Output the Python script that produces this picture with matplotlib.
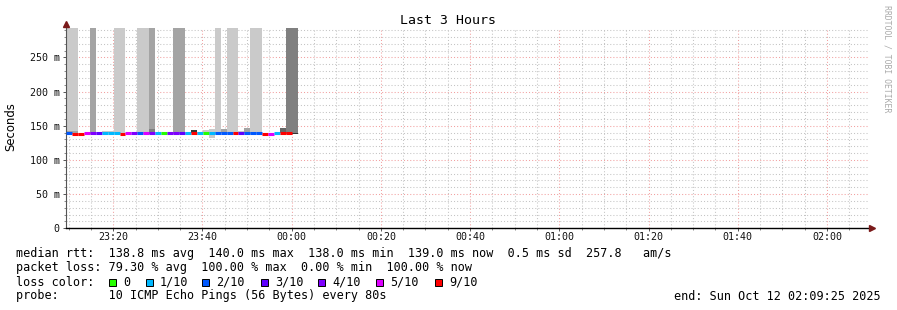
import datetime as dt

import matplotlib
matplotlib.use("Agg")
import matplotlib.dates as mdates
import matplotlib.pyplot as plt
import numpy as np
from matplotlib.patches import Rectangle

# =============================================================================
# Data (one value per 80 s step)
# =============================================================================

t_start = dt.datetime(2025, 10, 11, 23, 9, 25)
t_end   = dt.datetime(2025, 10, 12, 2, 9, 25)
step_s  = 80

nan = np.nan

median_ms = [139.0, 138.3, 138.0, 139.0, 139.0, 138.8, 139.8, 139.8, 139.5, 138.2,
             139.0, 139.0, 139.0, 139.0, 139.0, 139.0, 139.0, 139.0, 138.8, 138.8,
             139.0, 139.0, 139.0, 139.0, 139.2, 139.0, 139.0, 139.0, 139.0, 138.8,
             139.0, 139.0, 139.0, 138.6, 138.0, 139.2, 139.0, 139.0, nan]

loss = [2, 9, 9, 5, 4, 3, 1, 1, 1, 9,
        5, 4, 2, 5, 4, 1, 0, 4, 4, 3,
        1, 9, 1, 0, 1, 2, 2, 2, 9, 3,
        2, 2, 2, 9, 5, 1, 9, 9, 10]

# outer smoke band: bottom / top in ms, and how many pings sit in it (shade)
smoke_bot = [138.5, 138.0, nan, nan, 138.5, nan, 139.5, 139.5, 139.0, 137.8,
             nan, nan, 138.5, 138.5, 138.5, nan, nan, nan, 138.3, 138.3,
             nan, 139.5, nan, 139.5, 132.6, 138.5, 139.0, 138.5, 138.5, 139.5,
             139.5, 138.5, 138.5, nan, nan, nan, 139.5, 138.5, 138.5]
smoke_top = [300, 300, nan, nan, 300, nan, 142.0, 142.0, 300, 300,
             nan, nan, 300, 300, 300, nan, nan, nan, 300, 300,
             nan, 143.5, nan, 143.5, 144.7, 300, 144.7, 300, 300, 142.0,
             146.5, 300, 300, nan, nan, nan, 146.0, 300, 300]
smoke_rank = [1, 1, 0, 0, 2, 0, 1, 1, 1, 1,
              0, 0, 1, 1, 2, 0, 0, 0, 2, 2,
              0, 5, 0, 1, 1, 1, 2, 1, 1, 1,
              2, 1, 1, 0, 0, 0, 4, 3, 3]

# inner (darker) smoke band, only where it shows
inner_bot = [138.5, 138.0, nan, nan, nan, nan, nan, nan, nan, nan,
             nan, nan, nan, nan, 138.5, nan, nan, nan, nan, nan,
             nan, nan, nan, nan, nan, nan, nan, nan, nan, nan,
             nan, nan, nan, nan, nan, nan, nan, nan, 138.5]
inner_top = [142.0, 142.0, nan, nan, nan, nan, nan, nan, nan, nan,
             nan, nan, nan, nan, 145.0, nan, nan, nan, nan, nan,
             nan, nan, nan, nan, nan, nan, nan, nan, nan, nan,
             nan, nan, nan, nan, nan, nan, nan, nan, 140.0]
inner_rank = [2, 2, 0, 0, 0, 0, 0, 0, 0, 0,
              0, 0, 0, 0, 3, 0, 0, 0, 0, 0,
              0, 0, 0, 0, 0, 0, 0, 0, 0, 0,
              0, 0, 0, 0, 0, 0, 0, 0, 5]

loss_levels = [0, 1, 2, 3, 4, 5, 9]
loss_labels = ["0", "1/10", "2/10", "3/10", "4/10", "5/10", "9/10"]
loss_colors = ["#26ff00", "#00b8ff", "#0059ff", "#5e00ff", "#7e00ff", "#dd00ff", "#ff0000"]

y_ticks  = [0, 50, 100, 150, 200, 250]
y_labels = ["0", "50 m", "100 m", "150 m", "200 m", "250 m"]

stats_line = "median rtt:  138.8 ms avg  140.0 ms max  138.0 ms min  139.0 ms now  0.5 ms sd  257.8   am/s"
loss_line  = "packet loss: 79.30 % avg  100.00 % max  0.00 % min  100.00 % now"
probe_line = "probe:       10 ICMP Echo Pings (56 Bytes) every 80s"
end_line   = "end: Sun Oct 12 02:09:25 2025"

# =============================================================================
# Figure
# =============================================================================

W, H = 897, 310
MONO = "DejaVu Sans Mono"
shade = {1: "#cacaca", 2: "#a4a4a4", 3: "#808080", 4: "#666666", 5: "#333333"}
color_of = dict(zip(loss_levels, loss_colors))

fig = plt.figure(figsize=(W / 100, H / 100), dpi=100)
fig.patch.set_facecolor("white")

# plot area in pixels: x 66..869, y 28..228
L, R, T, B = 66, 869, 28, 228.3
ax = fig.add_axes([L / W, 1 - B / H, (R - L) / W, (B - T) / H])

n = len(median_ms)
x0 = mdates.date2num([t_start + dt.timedelta(seconds=step_s * i) for i in range(n)])
w = step_s / 86400.0

for bot, top, rank in [(smoke_bot, smoke_top, smoke_rank), (inner_bot, inner_top, inner_rank)]:
    for i in range(n):
        if rank[i] == 0 or np.isnan(top[i]):
            continue
        ax.bar(x0[i], top[i] - bot[i], bottom=bot[i], width=w, align="edge",
               color=shade[rank[i]], linewidth=0, zorder=2)

med = np.array(median_ms)
ok = ~np.isnan(med)
cols = [color_of[l] for l, k in zip(loss, ok) if k]
ax.hlines(med[ok], x0[ok], x0[ok] + w, colors=cols, linewidth=2.2,
          capstyle="butt", zorder=3)

ax.set_xlim(mdates.date2num(t_start), mdates.date2num(t_end))
ax.set_ylim(0, 293)

# grid
ax.xaxis.set_major_locator(mdates.MinuteLocator(byminute=[0, 20, 40]))
ax.xaxis.set_minor_locator(mdates.MinuteLocator(byminute=range(0, 60, 5)))
ax.xaxis.set_major_formatter(mdates.DateFormatter("%H:%M"))
ax.set_yticks(y_ticks)
ax.set_yticklabels(y_labels)
ax.set_yticks(np.arange(0, 291, 10), minor=True)
ax.set_axisbelow(True)
ax.grid(which="major", color="#f2a0a0", linestyle=(0, (1, 2)), linewidth=0.75)
ax.grid(which="minor", color="#c4c4c4", linestyle=(0, (1, 2)), linewidth=0.75)

for s in ("top", "right"):
    ax.spines[s].set_visible(False)
ax.spines["left"].set_color("#555555")
ax.spines["left"].set_linewidth(0.8)
ax.spines["bottom"].set_color("black")
ax.spines["bottom"].set_linewidth(1.0)
ax.tick_params(which="major", length=2.5, width=0.7, color="#555555", pad=2,
               labelsize=7.2, labelcolor="#111111")
ax.tick_params(which="minor", length=1.5, width=0.6, color="#777777")
ax.tick_params(axis="x", which="major", pad=0.5)
for lab in ax.get_xticklabels() + ax.get_yticklabels():
    lab.set_family(MONO)

# axis arrows
ax.plot([0], [1.0 + 4 / (B - T)], marker="^", markersize=5, color="#7a1a1a",
        transform=ax.transAxes, clip_on=False, zorder=5)
ax.plot([1.0 + 3 / (R - L)], [0], marker=">", markersize=5, color="#7a1a1a",
        transform=ax.transAxes, clip_on=False, zorder=5)

# texts


def px(x, y):
    return x / W, 1 - y / H


fig.text(*px(448, 20), "Last 3 Hours", ha="center", va="center", family=MONO, fontsize=9.5)
fig.text(*px(11, 127), "Seconds", rotation=90, ha="center", va="center",
         family="DejaVu Sans", fontsize=8.4)
fig.text(*px(887, 5), "RRDTOOL / TOBI OETIKER", rotation=270, ha="center", va="top",
         family=MONO, fontsize=5.9, color="#aaaaaa")

fig.text(*px(16, 254), stats_line, ha="left", va="center", family=MONO, fontsize=8.5)
fig.text(*px(16, 268), loss_line, ha="left", va="center", family=MONO, fontsize=8.5)
fig.text(*px(16, 282), "loss color:", ha="left", va="center", family=MONO, fontsize=8.5)
fig.text(*px(16, 296), probe_line, ha="left", va="center", family=MONO, fontsize=8.5)
fig.text(*px(881, 296), end_line, ha="right", va="center", family=MONO, fontsize=8.5)

sq_x = [109, 145.7, 202.3, 260.7, 318.3, 375.7, 435]
for xs, lab, c in zip(sq_x, loss_labels, loss_colors):
    fig.patches.append(Rectangle(px(xs, 285.5), 7 / W, 7 / H, transform=fig.transFigure,
                                 facecolor=c, edgecolor="black", linewidth=0.7))
    fig.text(*px(xs + 14, 282), lab, ha="left", va="center", family=MONO, fontsize=8.5)

fig.savefig("out.png", dpi=100)
